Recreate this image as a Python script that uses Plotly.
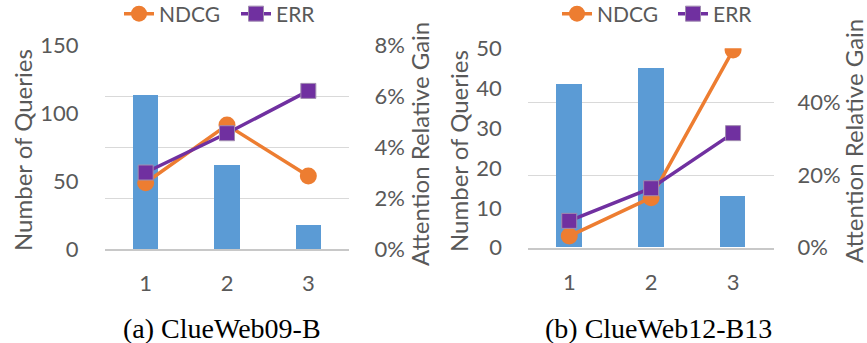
import plotly.graph_objects as go

categories = [1, 2, 3]
tick_labels = ["1", "2", "3"]

cw09_queries = [113, 62, 18]
cw09_ndcg = [0.026, 0.0486, 0.0286]
cw09_err = [0.030, 0.0454, 0.062]

cw12_queries = [41, 45, 13]
cw12_ndcg = [0.032, 0.138, 0.545]
cw12_err = [0.074, 0.164, 0.316]

W, H = 867, 343
BAR = "#5B9BD5"
ORANGE = "#ED7D31"
PURPLE = "#7030A0"
GRAY = "#595959"
GRID = "#D9D9D9"
FONT = "Lato"

def px_x(p):
    return p / W

def px_y(p):
    return 1 - p / H

fig = go.Figure()

# Panel (a)
fig.add_trace(go.Bar(x=categories, y=cw09_queries, width=0.31, marker_color=BAR,
                     marker_line_width=0, showlegend=False, xaxis="x", yaxis="y"))
fig.add_trace(go.Scatter(x=categories, y=cw09_ndcg, name="NDCG", mode="lines+markers",
                         line=dict(color=ORANGE, width=3.5),
                         marker=dict(symbol="circle", size=17, color=ORANGE),
                         xaxis="x", yaxis="y2", legend="legend", legendwidth=72))
fig.add_trace(go.Scatter(x=categories, y=cw09_err, name="ERR", mode="lines+markers",
                         line=dict(color=PURPLE, width=3.5),
                         marker=dict(symbol="square", size=15, color=PURPLE,
                                     line=dict(color="#A08CB0", width=1)),
                         xaxis="x", yaxis="y2", legend="legend"))

# Panel (b)
fig.add_trace(go.Bar(x=categories, y=cw12_queries, width=0.31, marker_color=BAR,
                     marker_line_width=0, showlegend=False, xaxis="x2", yaxis="y3"))
fig.add_trace(go.Scatter(x=categories, y=cw12_ndcg, name="NDCG", mode="lines+markers",
                         line=dict(color=ORANGE, width=3.5),
                         marker=dict(symbol="circle", size=17, color=ORANGE),
                         xaxis="x2", yaxis="y4", legend="legend2", legendwidth=71))
fig.add_trace(go.Scatter(x=categories, y=cw12_err, name="ERR", mode="lines+markers",
                         line=dict(color=PURPLE, width=3.5),
                         marker=dict(symbol="square", size=15, color=PURPLE,
                                     line=dict(color="#A08CB0", width=1)),
                         xaxis="x2", yaxis="y4", legend="legend2"))

tickfont = dict(family=FONT, size=22, color=GRAY)

xcommon = dict(range=[0.5, 3.5], tickvals=categories, ticktext=tick_labels,
               showgrid=False, zeroline=False, showline=True, linecolor="#C8C8C8",
               linewidth=1.5, ticks="outside", ticklen=14, tickcolor="rgba(0,0,0,0)",
               tickfont=tickfont, fixedrange=True)

ycommon = dict(showgrid=False, zeroline=False, showline=False, ticks="outside",
               ticklen=21, tickcolor="rgba(0,0,0,0)", tickfont=tickfont, fixedrange=True)

legfont = dict(family=FONT, size=21, color=GRAY)

fig.update_layout(
    width=W, height=H, autosize=False,
    margin=dict(l=0, r=0, t=0, b=0, autoexpand=False),
    paper_bgcolor="white", plot_bgcolor="rgba(0,0,0,0)",
    bargap=0,
    xaxis=dict(domain=[px_x(105), px_x(349)], anchor="y", **xcommon),
    yaxis=dict(domain=[px_y(249), px_y(45)], anchor="x", range=[0, 150], dtick=50, side="left", **ycommon),
    yaxis2=dict(overlaying="y", anchor="x", side="right", range=[0, 0.08], dtick=0.02,
                tickformat=".0%", **{**ycommon, "ticklen": 20, "showgrid": True}, gridcolor=GRID, gridwidth=1),
    xaxis2=dict(domain=[px_x(528.3), px_x(774)], anchor="y3", **xcommon),
    yaxis3=dict(domain=[px_y(247.7), px_y(48.3)], anchor="x2", range=[0, 50], dtick=10, side="left", **ycommon),
    yaxis4=dict(overlaying="y3", anchor="x2", side="right", range=[0, 0.55], dtick=0.2,
                tickformat=".0%", **{**ycommon, "ticklen": 18, "showgrid": True}, gridcolor=GRID, gridwidth=1),
    legend=dict(orientation="h", x=px_x(119), xanchor="left", y=px_y(14), yanchor="middle",
                font=legfont, bgcolor="rgba(0,0,0,0)"),
    legend2=dict(orientation="h", x=px_x(557), xanchor="left", y=px_y(14), yanchor="middle",
                 font=legfont, bgcolor="rgba(0,0,0,0)"),
)

titlefont = dict(family=FONT, size=24, color=GRAY)
annos = [
    dict(text="Number of Queries", x=px_x(22), y=px_y(150), textangle=-90),
    dict(text="Attention Relative Gain", x=px_x(419), y=px_y(144), textangle=-90),
    dict(text="Number of Queries", x=px_x(458), y=px_y(151), textangle=-90),
    dict(text="Attention Relative Gain", x=px_x(853), y=px_y(141), textangle=-90),
]
for a in annos:
    fig.add_annotation(xref="paper", yref="paper", showarrow=False, xanchor="center",
                       yanchor="middle", font=titlefont, **a)

capfont = dict(family="Liberation Serif", size=28, color="black")
fig.add_annotation(text="(a) ClueWeb09-B", x=px_x(222), y=px_y(328), xref="paper", yref="paper",
                   showarrow=False, xanchor="center", yanchor="middle", font=capfont)
fig.add_annotation(text="(b) ClueWeb12-B13", x=px_x(658), y=px_y(328), xref="paper", yref="paper",
                   showarrow=False, xanchor="center", yanchor="middle", font=capfont)

fig.write_html("out.html", config={"displayModeBar": False},
               post_script="document.body.style.margin='0';document.body.style.overflow='hidden';")
